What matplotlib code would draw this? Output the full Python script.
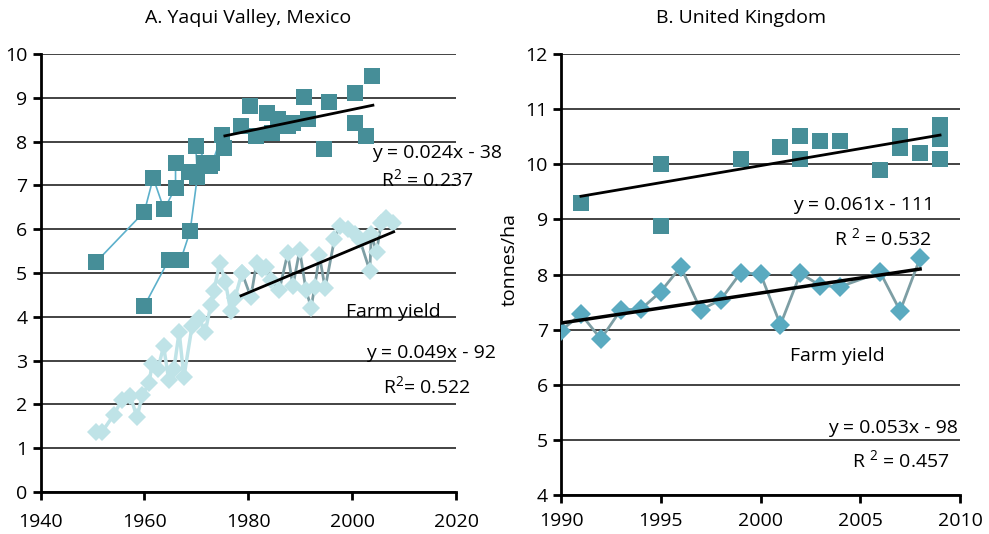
import numpy as np
import matplotlib
matplotlib.use("Agg")
import matplotlib.pyplot as plt

plt.rcParams['font.family'] = ['Open Sans', 'DejaVu Sans']
plt.rcParams['mathtext.default'] = 'regular'

# A. Yaqui Valley, Mexico -- grain yield (squares)
yq_sq_a_years = [1950.7, 1960, 1961.7, 1963.8, 1966, 1966, 1968.6, 1971.4, 1973, 1975]
yq_sq_a = [5.25, 6.4, 7.17, 6.45, 6.95, 7.5, 7.3, 7.5, 7.5, 8.15]
yq_sq_b_years = [1960, 1964.7, 1967, 1968.8, 1970.2, 1969.9, 1972.6, 1975.4]
yq_sq_b = [4.25, 5.3, 5.3, 5.95, 7.2, 7.9, 7.45, 7.85]
yq_sq_c_years = [1978.6, 1980.4, 1981.5, 1983.7, 1984.6, 1985.7, 1987.6, 1988.7,
                 1990.7, 1991.6, 1994.6, 1995.6, 2000.6, 2000.6, 2002.7, 2003.8]
yq_sq_c = [8.36, 8.82, 8.13, 8.65, 8.2, 8.52, 8.36, 8.43,
           9.02, 8.52, 7.82, 8.9, 9.1, 8.42, 8.13, 9.5]
yq_sq_trend_x = [1975.5, 2004]
yq_sq_trend_y = [8.13, 8.83]

# A. Yaqui Valley -- farm yield (diamonds)
yq_farm_years = [1950.6, 1951.9, 1954.1, 1955.7, 1957.3, 1958.6, 1959.6, 1960.9, 1961.5,
                 1962.6, 1963.7, 1964.7, 1965.7, 1966.7, 1967.6, 1969.2, 1970.5, 1971.7,
                 1972.8, 1973.4, 1974.5, 1975.6, 1976.6, 1977.4, 1978.8]
yq_farm = [1.38, 1.38, 1.76, 2.11, 2.18, 1.71, 2.21, 2.48, 2.93,
           2.8, 3.33, 2.55, 2.81, 3.66, 2.62, 3.8, 3.98, 3.65,
           4.27, 4.6, 5.22, 4.8, 4.14, 4.42, 5.0]
yq_farm_late_years = [1978.8, 1980.5, 1981.6, 1982.6, 1983.4, 1984.3, 1986, 1987.6, 1988.6,
                      1989.9, 1991.1, 1992.1, 1992.8, 1993.7, 1994.8, 1996.6, 1997.6,
                      1999.2, 2000.5, 2001.5, 2003.4, 2003.7, 2004.7, 2005.6, 2006.6, 2007.9]
yq_farm_late = [5.0, 4.45, 5.22, 5.1, 5.13, 4.85, 4.62, 5.45, 4.7,
                5.52, 4.62, 4.21, 4.69, 5.4, 4.65, 5.77, 6.08,
                6.0, 5.9, 5.75, 5.05, 5.88, 5.47, 6.15, 6.25, 6.15]
yq_farm_trend_x = [1978.6, 2008]
yq_farm_trend_y = [4.48, 5.94]

# B. United Kingdom -- grain yield (squares)
uk_sq_years = [1991, 1995, 1995, 1999, 2001, 2002, 2002, 2003, 2004, 2006,
               2007, 2007, 2008, 2009, 2009, 2009]
uk_sq = [9.3, 10.0, 8.88, 10.1, 10.31, 10.52, 10.1, 10.42, 10.42, 9.9,
         10.52, 10.3, 10.2, 10.72, 10.45, 10.1]
uk_sq_trend_x = [1991, 2009]
uk_sq_trend_y = [9.42, 10.53]

# B. United Kingdom -- farm yield (diamonds)
uk_farm_years = [1990, 1991, 1992, 1993, 1994, 1995, 1996, 1997, 1998, 1999,
                 2000, 2001, 2002, 2003, 2004, 2006, 2007, 2008]
uk_farm = [6.98, 7.28, 6.83, 7.36, 7.37, 7.69, 8.14, 7.36, 7.54, 8.03,
           8.01, 7.09, 8.02, 7.8, 7.78, 8.04, 7.34, 8.3]
uk_farm_trend_x = [1990, 2008]
uk_farm_trend_y = [7.12, 8.1]

sq_col = "#468e98"
sq_line = "#5cb0cb"
light_dia = "#bfe3e7"
gray_line = "#7d9ea4"
uk_dia = "#5aaac0"

fig = plt.figure(figsize=(9.89, 5.34), dpi=100)
ax1 = fig.add_axes([40.5 / 989, 0.0787, 415.5 / 989, 0.8202])
ax2 = fig.add_axes([561 / 989, 0.073, 399 / 989, 0.8258])

for ax in (ax1, ax2):
    for s in ("top", "right"):
        ax.spines[s].set_visible(False)
    for s in ("left", "bottom"):
        ax.spines[s].set_linewidth(2)
        ax.spines[s].set_color("black")
    ax.yaxis.grid(True, color="#222222", lw=1.2)
    ax.set_axisbelow(True)
    ax.tick_params(axis="both", labelsize=14, width=2, length=6, color="black")
ax1.tick_params(axis="x", pad=9)
ax2.tick_params(axis="x", pad=6)

# left panel
ax1.plot(yq_sq_a_years, yq_sq_a, "-", color=sq_line, lw=1.2, zorder=2)
ax1.plot(yq_sq_b_years, yq_sq_b, "-", color=sq_line, lw=1.2, zorder=2)
ax1.plot(yq_sq_a_years, yq_sq_a, "s", color=sq_col, ms=11, mew=0, zorder=3)
ax1.plot(yq_sq_b_years, yq_sq_b, "s", color=sq_col, ms=11, mew=0, zorder=3)
ax1.plot(yq_sq_c_years, yq_sq_c, "s", color=sq_col, ms=11, mew=0, zorder=3)
ax1.plot(yq_farm_years, yq_farm, "-", color=light_dia, lw=2.5, zorder=2)
ax1.plot(yq_farm_late_years, yq_farm_late, "-", color=gray_line, lw=2, zorder=2)
ax1.plot(yq_farm_years, yq_farm, "D", color=light_dia, ms=9, mew=0, zorder=3)
ax1.plot(yq_farm_late_years, yq_farm_late, "D", color=light_dia, ms=9, mew=0, zorder=3)
ax1.plot(yq_sq_trend_x, yq_sq_trend_y, "-", color="black", lw=2, zorder=4)
ax1.plot(yq_farm_trend_x, yq_farm_trend_y, "-", color="black", lw=2, zorder=4)

ax1.set_xlim(1940, 2020)
ax1.set_ylim(0, 10)
ax1.set_xticks(range(1940, 2021, 20))
ax1.set_yticks(range(0, 11))

ax1.text(2003.9, 7.62, "y = 0.024x - 38", fontsize=14, va="baseline")
ax1.text(2005.6, 6.99, "R$^2$ = 0.237", fontsize=14, va="baseline")
ax1.text(1998.9, 3.99, "Farm yield", fontsize=14, va="baseline")
ax1.text(2002.7, 3.07, "y = 0.049x - 92", fontsize=14, va="baseline")
ax1.text(2005.9, 2.25, "R$^2$= 0.522", fontsize=14, va="baseline")

# right panel
ax2.plot(uk_sq_years, uk_sq, "s", color=sq_col, ms=12, mew=0, zorder=3)
ax2.plot(uk_farm_years, uk_farm, "-", color=gray_line, lw=2, zorder=2)
ax2.plot(uk_farm_years, uk_farm, "D", color=uk_dia, ms=10, mew=0, zorder=3)
ax2.plot(uk_sq_trend_x, uk_sq_trend_y, "-", color="black", lw=2, zorder=4)
ax2.plot(uk_farm_trend_x, uk_farm_trend_y, "-", color="black", lw=2.5, zorder=4)

ax2.set_xlim(1990, 2010)
ax2.set_ylim(4, 12)
ax2.set_xticks(range(1990, 2011, 5))
ax2.set_yticks(range(4, 13))
ax2.set_ylabel("tonnes/ha", fontsize=14)
ax2.yaxis.set_label_coords(-0.107, 0.533)

ax2.text(2001.65, 9.17, "y = 0.061x - 111", fontsize=14, va="baseline")
ax2.text(2003.66, 8.54, "R $^2$ = 0.532", fontsize=14, va="baseline")
ax2.text(2001.5, 6.43, "Farm yield", fontsize=14, va="baseline")
ax2.text(2003.4, 5.13, "y = 0.053x - 98", fontsize=14, va="baseline")
ax2.text(2004.6, 4.51, "R $^2$ = 0.457", fontsize=14, va="baseline")

fig.text(248 / 989, 1 - 18 / 534, "A. Yaqui Valley, Mexico", fontsize=14, ha="center", va="center")
fig.text(741 / 989, 1 - 18 / 534, "B. United Kingdom", fontsize=14, ha="center", va="center")

fig.savefig("out.png", dpi=100)
